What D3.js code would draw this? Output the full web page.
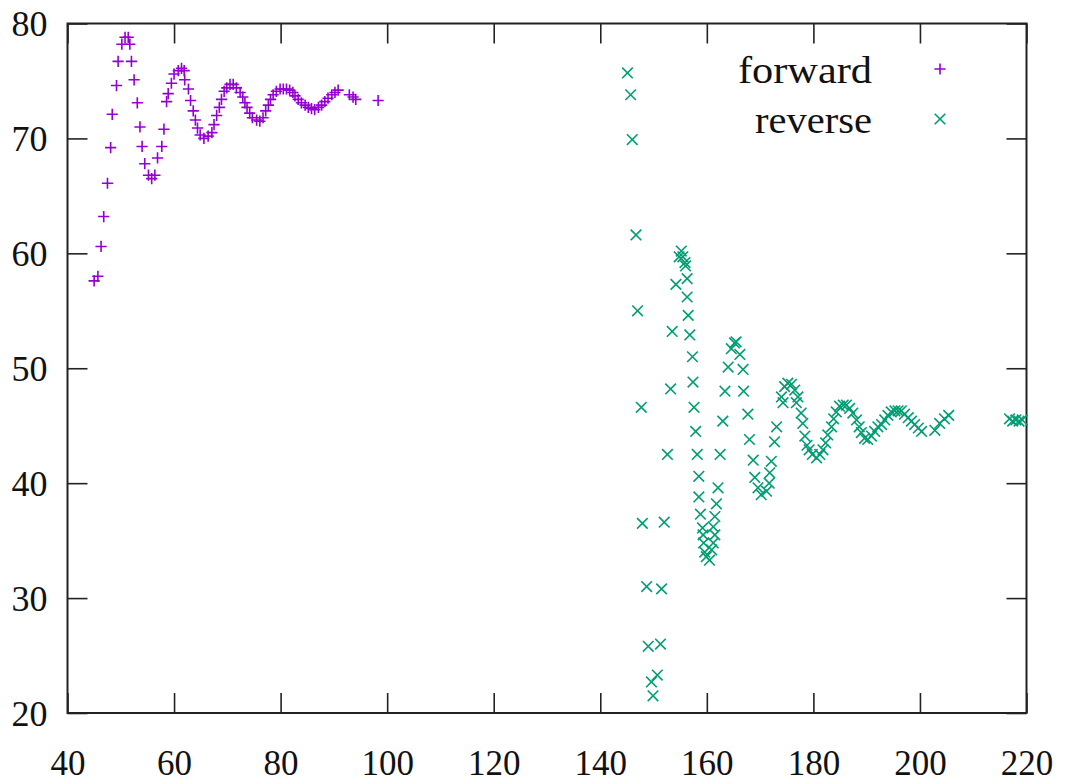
<!DOCTYPE html>
<html><head><meta charset="utf-8">
<script src="https://cdn.jsdelivr.net/npm/d3@7"></script>
<style>html,body{margin:0;padding:0;background:#fff;}svg{display:block;}</style>
</head><body>
<script>
const xTicks = [40,60,80,100,120,140,160,180,200,220];
const yTicks = [20,30,40,50,60,70,80];
const seriesNames = ["forward","reverse"];
const forwardX = [45.0,45.7,46.3,46.8,47.5,48.1,48.4,49.2,49.5,50.2,50.8,51.4,51.7,52.0,52.5,53.1,53.6,54.0,54.5,55.2,55.8,56.4,56.9,57.7,58.1,58.6,58.9,59.5,60.0,60.8,61.4,61.9,62.0,62.7,63.1,63.6,64.0,64.4,64.9,65.6,66.4,67.1,67.5,68.0,68.5,68.9,69.4,69.9,70.5,71.1,71.7,72.4,72.9,73.3,73.7,74.2,74.7,75.5,76.1,76.7,77.2,77.7,78.1,78.6,79.2,79.9,80.5,81.1,81.7,82.3,82.7,83.3,83.9,84.6,85.2,85.8,86.4,87.1,87.7,88.3,88.9,89.6,90.2,90.8,92.9,93.6,94.1,98.3];
const forwardY = [57.6,58.0,60.6,63.2,66.1,69.2,72.1,74.6,76.7,78.2,78.8,78.8,78.2,76.7,75.1,73.1,71.0,69.3,67.8,66.8,66.5,66.8,68.3,69.3,70.8,73.2,73.9,74.8,75.6,75.9,76.1,75.9,75.1,74.3,73.3,72.4,71.6,70.9,70.3,70.0,70.2,70.5,71.2,72.0,72.7,73.4,74.1,74.4,74.7,74.7,74.4,74.0,73.6,73.1,72.7,72.2,71.8,71.6,71.5,71.8,72.4,72.9,73.4,73.8,74.1,74.3,74.3,74.3,74.2,74.0,73.7,73.4,73.1,72.9,72.7,72.6,72.5,72.7,72.9,73.2,73.5,73.8,74.0,74.2,73.8,73.6,73.4,73.3];
const reverseX = [145.1,145.7,146.0,146.7,147.0,147.7,147.9,148.7,149.0,149.6,149.9,150.7,151.3,151.5,152.0,152.6,153.2,153.5,154.2,154.8,155.2,155.5,155.9,156.0,156.3,156.3,156.5,156.8,157.3,157.4,157.6,157.9,158.2,158.5,158.5,158.8,159.2,159.3,159.4,159.6,159.9,160.5,160.9,161.2,161.5,161.2,161.5,161.8,162.1,162.5,163.0,163.4,164.0,164.6,165.2,165.5,166.2,166.8,166.9,167.7,168.0,168.7,169.0,169.6,170.2,171.2,171.7,171.8,172.1,172.7,173.1,174.0,174.3,174.6,175.2,175.9,176.5,176.8,177.1,177.7,178.0,178.4,178.8,179.2,179.8,180.6,181.2,181.8,182.3,182.7,183.4,183.8,184.3,184.9,185.6,186.2,186.8,187.4,188.1,188.6,189.0,189.6,190.2,190.9,191.5,192.1,192.8,193.4,194.0,194.6,195.3,195.9,196.5,197.1,197.8,198.4,199.0,199.7,200.3,202.8,203.7,204.6,205.4,216.8,217.4,218.0,218.6,219.2];
const reverseY = [75.7,73.8,69.9,61.6,55.0,46.6,36.5,31.0,25.8,22.7,21.5,23.3,26.0,30.8,36.6,42.5,48.2,53.2,57.3,59.7,60.2,59.7,59.2,58.9,57.8,56.2,54.6,52.9,51.0,48.8,46.6,44.5,42.5,40.6,38.8,37.3,36.1,35.5,34.8,34.0,33.6,33.3,34.2,34.8,35.5,36.2,37.1,38.2,39.6,42.5,45.4,48.0,50.1,51.7,52.2,52.3,51.2,49.9,48.0,46.0,43.8,42.0,40.5,39.6,39.0,39.3,40.0,40.9,41.9,43.6,44.9,47.5,47.0,48.4,48.7,48.6,48.1,47.0,47.5,46.1,45.2,44.1,43.3,42.9,42.5,42.2,42.5,42.9,43.5,44.2,44.9,45.6,46.2,46.7,46.8,46.8,46.5,46.1,45.5,44.9,44.4,43.9,43.8,44.1,44.5,44.9,45.1,45.5,45.9,46.2,46.3,46.3,46.3,46.0,45.7,45.4,45.1,44.8,44.5,44.6,45.2,45.6,45.9,45.6,45.4,45.5,45.4,45.5];

const W = 1065, H = 784;
const L = 67.5, R = 1026.5, T = 23.5, B = 713;
const colF = "#9400d3", colR = "#009e73";
const font = "'Liberation Serif', 'Times New Roman', serif";

const svg = d3.select("body").append("svg").attr("width", W).attr("height", H);
svg.append("rect").attr("width", W).attr("height", H).attr("fill", "#fff");

const x = d3.scaleLinear().domain([40,220]).range([L,R]);
const y = d3.scaleLinear().domain([20,80]).range([B,T]);

const tickLen = 20;
const gx = svg.append("g").attr("transform", `translate(0,${B})`)
  .call(d3.axisBottom(x).tickValues(xTicks).tickSizeInner(-tickLen).tickSizeOuter(0));
gx.select(".domain").remove();
gx.selectAll("line").attr("stroke", "#222").attr("stroke-width", 1.6);
gx.selectAll("text").attr("font-family", font).attr("font-size", 35).attr("fill", "#111").attr("dy", null).attr("y", 62);
const gt = svg.append("g").attr("transform", `translate(0,${T})`)
  .call(d3.axisTop(x).tickValues(xTicks).tickSizeInner(-tickLen).tickSizeOuter(0).tickFormat(""));
gt.select(".domain").remove();
gt.selectAll("line").attr("stroke", "#222").attr("stroke-width", 1.6);
const gy = svg.append("g").attr("transform", `translate(${L},0)`)
  .call(d3.axisLeft(y).tickValues(yTicks).tickSizeInner(-tickLen).tickSizeOuter(0));
gy.select(".domain").remove();
gy.selectAll("line").attr("stroke", "#222").attr("stroke-width", 1.6);
gy.selectAll("text").attr("font-family", font).attr("font-size", 36).attr("fill", "#111")
  .attr("x", -20).attr("dy", "0.34em");
const gr = svg.append("g").attr("transform", `translate(${R},0)`)
  .call(d3.axisRight(y).tickValues(yTicks).tickSizeInner(-tickLen).tickSizeOuter(0).tickFormat(""));
gr.select(".domain").remove();
gr.selectAll("line").attr("stroke", "#222").attr("stroke-width", 1.6);

svg.append("rect").attr("x", L).attr("y", T).attr("width", R - L).attr("height", B - T)
  .attr("fill", "none").attr("stroke", "#222").attr("stroke-width", 2);

const s = 5.6, sx = 5.3;
function plus(g, cx, cy, col) {
  g.append("path").attr("d", `M${cx - s},${cy}H${cx + s}M${cx},${cy - s}V${cy + s}`)
    .attr("stroke", col).attr("stroke-width", 1.6).attr("fill", "none");
}
function cross(g, cx, cy, col) {
  g.append("path").attr("d", `M${cx - sx},${cy - sx}L${cx + sx},${cy + sx}M${cx - sx},${cy + sx}L${cx + sx},${cy - sx}`)
    .attr("stroke", col).attr("stroke-width", 1.6).attr("fill", "none");
}
const gF = svg.append("g");
forwardX.forEach((v, i) => plus(gF, x(v), y(forwardY[i]), colF));
const gR = svg.append("g");
reverseX.forEach((v, i) => cross(gR, x(v), y(reverseY[i]), colR));

const leg = svg.append("g");
leg.append("text").attr("x", 872).attr("y", 83).attr("text-anchor", "end")
  .attr("font-family", font).attr("font-size", 38).attr("fill", "#111")
  .attr("textLength", 134).attr("lengthAdjust", "spacingAndGlyphs").text(seriesNames[0]);
leg.append("text").attr("x", 872).attr("y", 133).attr("text-anchor", "end")
  .attr("font-family", font).attr("font-size", 38).attr("fill", "#111")
  .attr("textLength", 117).attr("lengthAdjust", "spacingAndGlyphs").text(seriesNames[1]);
plus(leg, 940, 69, colF);
cross(leg, 940, 119, colR);
</script>
</body></html>
